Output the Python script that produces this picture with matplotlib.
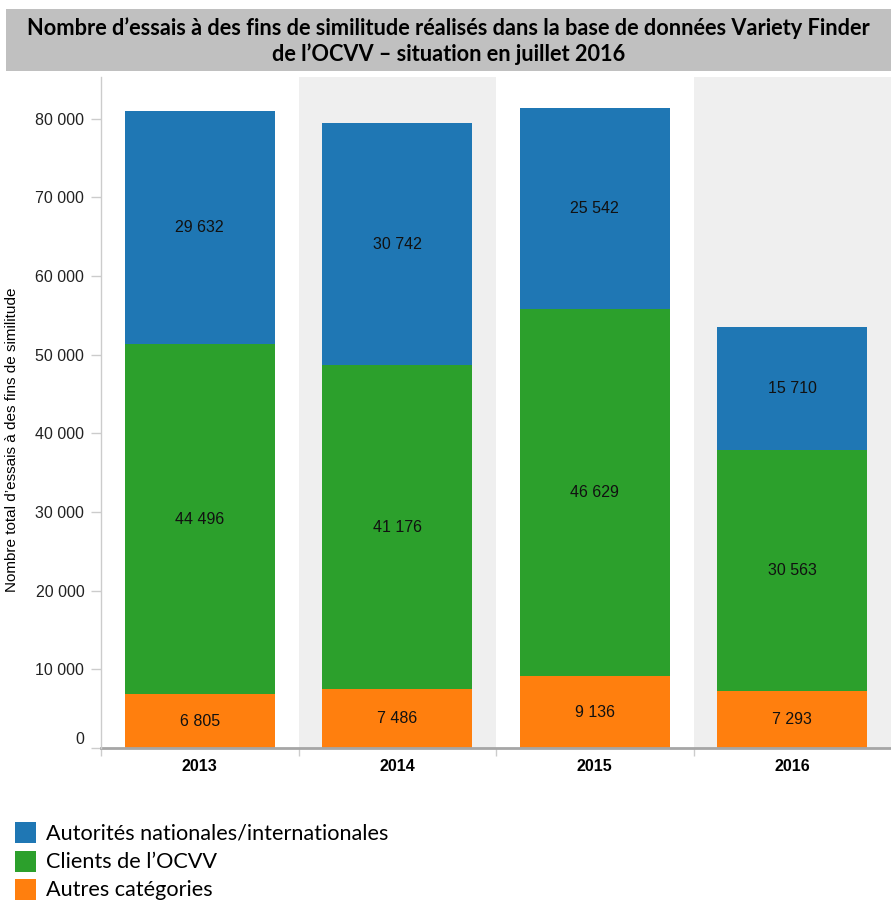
import matplotlib
matplotlib.use("Agg")
import matplotlib.pyplot as plt
from matplotlib.patches import Rectangle
from matplotlib.ticker import FuncFormatter
import matplotlib.transforms as mtransforms

years = ["2013", "2014", "2015", "2016"]
autres = [6805, 7486, 9136, 7293]
clients = [44496, 41176, 46629, 30563]
autorites = [29632, 30742, 25542, 15710]
series_names = ["Autorités nationales/internationales", "Clients de l\u2019OCVV", "Autres catégories"]
colors = ["#1f77b4", "#2ca02c", "#ff7f0e"]
yticks = [0, 10000, 20000, 30000, 40000, 50000, 60000, 70000, 80000]

title = "Nombre d\u2019essais à des fins de similitude réalisés dans la base de données Variety Finder\nde l\u2019OCVV \u2013 situation en juillet 2016"
ylabel = "Nombre total d\u2019essais à des fins de similitude"

def fmt(v):
    return f"{int(v):,}".replace(",", " ")

W, H = 891, 902
fig = plt.figure(figsize=(W/100, H/100), dpi=100)
fig.patch.set_facecolor("white")

# title box
fig.patches.append(Rectangle((6/W, 1-71/H), (W-6)/W, 62/H, transform=fig.transFigure,
                             facecolor="#c0c0c0", edgecolor="none", zorder=0))
fig.text((6+W)/2/W, 1-41/H, title, ha="center", va="center", fontsize=15.7,
         fontweight="bold", family="Lato", linespacing=1.2)

ax = fig.add_axes([101/W, 1-748/H, (W-101)/W, (748-77)/H])
ax.set_xlim(-0.5, len(years)-0.5)
ax.set_ylim(0, 85300)

for i in range(len(years)):
    if i % 2 == 1:
        ax.axvspan(i-0.5, i+0.5, color="#efefef", zorder=0, lw=0)

x = list(range(len(years)))
bottoms2 = autres
bottoms3 = [a+b for a, b in zip(autres, clients)]
ax.bar(x, autres, width=0.76, color=colors[2], zorder=2)
ax.bar(x, clients, width=0.76, bottom=bottoms2, color=colors[1], zorder=2)
ax.bar(x, autorites, width=0.76, bottom=bottoms3, color=colors[0], zorder=2)

lblkw = dict(ha="center", va="center", fontsize=11.5, family="Liberation Sans", color="#111111", zorder=3)
for i in range(len(years)):
    ax.text(i, autres[i]/2, fmt(autres[i]), **lblkw)
    ax.text(i, bottoms2[i] + clients[i]/2, fmt(clients[i]), **lblkw)
    ax.text(i, bottoms3[i] + autorites[i]/2, fmt(autorites[i]), **lblkw)

ax.set_yticks(yticks)
ax.yaxis.set_major_formatter(FuncFormatter(lambda v, p: fmt(v)))
ax.tick_params(axis="y", length=7, width=1, color="#cccccc", pad=5, labelsize=11.5, labelcolor="#222222")
for t in ax.get_yticklabels():
    t.set_family("Liberation Sans")
# shift "0" label up slightly
lab0 = ax.get_yticklabels()[0]
lab0.set_transform(lab0.get_transform() + mtransforms.ScaledTranslation(0, 10/100, fig.dpi_scale_trans))

ax.set_xticks([i-0.5 for i in range(len(years))], minor=False)
ax.set_xticklabels([])
ax.set_xticks(x, minor=True)
ax.set_xticklabels(years, minor=True, fontsize=11.5, fontweight="bold", family="Liberation Sans")
ax.tick_params(axis="x", which="major", length=6, color="#cccccc", width=1)
ax.tick_params(axis="x", which="minor", length=0, pad=8)

for s in ["top", "right"]:
    ax.spines[s].set_visible(False)
ax.spines["left"].set_color("#cccccc")
ax.spines["left"].set_linewidth(1)
ax.spines["bottom"].set_color("#a6a6a6")
ax.spines["bottom"].set_linewidth(2)
ax.spines["left"].set_zorder(4)

fig.text(12/W, 1-440/H, ylabel, rotation=90, ha="center", va="center", fontsize=11,
         family="Liberation Sans")

# legend
leg_y = [833, 862, 890]
for name, c, yy in zip(series_names, colors, leg_y):
    fig.patches.append(Rectangle((15/W, 1-(yy+10)/H), 21/W, 21/H, transform=fig.transFigure,
                                 facecolor=c, edgecolor="none"))
    fig.text(46/W, 1-yy/H, name, ha="left", va="center", fontsize=15.6, family="Lato")

fig.savefig("out.png", dpi=100)
